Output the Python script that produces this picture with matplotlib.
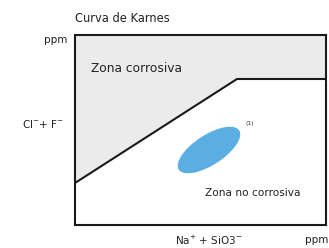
import matplotlib.pyplot as plt
from matplotlib.patches import Ellipse

# Curva de Karnes (unidades arbitrarias de ppm)
curva_x = [0, 162, 251]
curva_y = [42, 146, 146]
x_max = 251
y_max = 190

# zona de operación (1)
elipse_centro = (134, 75)
elipse_ancho = 72
elipse_alto = 30
elipse_angulo = 33

plt.rcParams['font.family'] = ['DejaVu Sans']

fig = plt.figure(figsize=(3.29, 2.48), dpi=100)
ax = fig.add_axes([75 / 329, 23 / 248, 251 / 329, 190 / 248])

# zona corrosiva en gris por encima de la curva
ax.fill_between(curva_x, curva_y, y_max, color="#ebebeb", linewidth=0)
ax.plot(curva_x, curva_y, color="#1a1a1a", linewidth=1.5)

ax.add_patch(Ellipse(elipse_centro, elipse_ancho, elipse_alto, angle=elipse_angulo,
                     facecolor="#5aaee2", edgecolor="none"))

ax.set_xlim(0, x_max)
ax.set_ylim(0, y_max)
ax.set_xticks([])
ax.set_yticks([])
for s in ax.spines.values():
    s.set_linewidth(1.5)
    s.set_color("#1a1a1a")

ax.text(16, 157, "Zona corrosiva", fontsize=8.8, color="#222222", va="center")
ax.text(130, 32, "Zona no corrosiva", fontsize=7.6, color="#222222", va="center")
ax.text(170, 101, "(1)", fontsize=4.5, color="#333333", va="center")

fig.text(75 / 329, 1 - 19 / 248, "Curva de Karnes", fontsize=8.3, color="#222222", va="center")
fig.text(67 / 329, 1 - 40 / 248, "ppm", fontsize=7.5, color="#222222", va="center", ha="right")
fig.text(64 / 329, 1 - 124 / 248, "Cl$^{-}$+ F$^{-}$", fontsize=7.5, color="#222222", va="center", ha="right")
fig.text(175 / 329, 1 - 240 / 248, "Na$^{+}$ + SiO3$^{-}$", fontsize=7.5, color="#222222", va="center", ha="left")
fig.text(328 / 329, 1 - 240 / 248, "ppm", fontsize=7.5, color="#222222", va="center", ha="right")

fig.savefig("out.png", dpi=100)
